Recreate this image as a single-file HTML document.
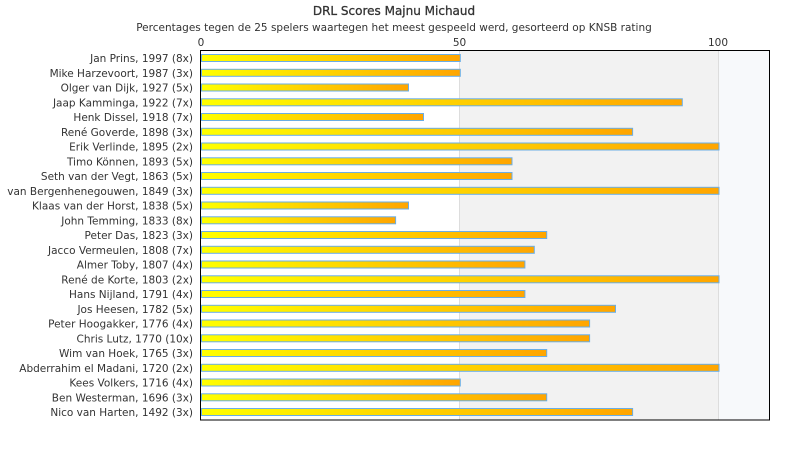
<!DOCTYPE html>
<html><head><meta charset="utf-8"><style>
html,body{margin:0;padding:0;background:#fff;}
svg{display:block;font-family:"DejaVu Sans","Liberation Sans",sans-serif;}
</style></head><body>
<svg width="790" height="450" viewBox="0 0 790 450" xmlns="http://www.w3.org/2000/svg">
<defs>
<linearGradient id="g" x1="0" x2="1" y1="0" y2="0"><stop offset="0" stop-color="#ffff00"/><stop offset="1" stop-color="#ffa500"/></linearGradient>
</defs>
<text x="394" y="15" text-anchor="middle" font-size="12" fill="#333" stroke="#333" stroke-width="0.3">DRL Scores Majnu Michaud</text>
<text x="394" y="31" text-anchor="middle" font-size="10.5" fill="#333">Percentages tegen de 25 spelers waartegen het meest gespeeld werd, gesorteerd op KNSB rating</text>
<rect x="459.5" y="50" width="259" height="370" fill="#f2f2f2"/>
<rect x="718.5" y="50" width="51" height="370" fill="#f7f9fb"/>
<line x1="459.5" y1="50" x2="459.5" y2="420" stroke="#ddd"/>
<line x1="718.5" y1="50" x2="718.5" y2="420" stroke="#ddd"/>
<g font-size="10.5" fill="#333" text-anchor="middle">
<text x="201" y="46">0</text><text x="459.5" y="46">50</text><text x="718" y="46">100</text>
</g>
<g id="bars" stroke="#6aaee6" stroke-width="1" fill="url(#g)"></g>
<g id="labels" font-size="10.5" fill="#333" text-anchor="end"></g>
<rect x="200.5" y="50.5" width="569" height="369.5" fill="none" stroke="#000"/>
<script>
var d=[["Jan Prins, 1997 (8x)",50],["Mike Harzevoort, 1987 (3x)",50],["Olger van Dijk, 1927 (5x)",40],["Jaap Kamminga, 1922 (7x)",92.9],["Henk Dissel, 1918 (7x)",42.9],["René Goverde, 1898 (3x)",83.3],["Erik Verlinde, 1895 (2x)",100],["Timo Können, 1893 (5x)",60],["Seth van der Vegt, 1863 (5x)",60],["van Bergenhenegouwen, 1849 (3x)",100],["Klaas van der Horst, 1838 (5x)",40],["John Temming, 1833 (8x)",37.5],["Peter Das, 1823 (3x)",66.7],["Jacco Vermeulen, 1808 (7x)",64.3],["Almer Toby, 1807 (4x)",62.5],["René de Korte, 1803 (2x)",100],["Hans Nijland, 1791 (4x)",62.5],["Jos Heesen, 1782 (5x)",80],["Peter Hoogakker, 1776 (4x)",75],["Chris Lutz, 1770 (10x)",75],["Wim van Hoek, 1765 (3x)",66.7],["Abderrahim el Madani, 1720 (2x)",100],["Kees Volkers, 1716 (4x)",50],["Ben Westerman, 1696 (3x)",66.7],["Nico van Harten, 1492 (3x)",83.3]];
var ns="http://www.w3.org/2000/svg",b=document.getElementById("bars"),l=document.getElementById("labels");
d.forEach(function(r,i){var cy=58+i*14.75;
var re=document.createElementNS(ns,"rect");re.setAttribute("x",201.5);re.setAttribute("y",(cy-3.5).toFixed(1));re.setAttribute("width",(r[1]*5.175).toFixed(1));re.setAttribute("height",7);b.appendChild(re);
var t=document.createElementNS(ns,"text");t.setAttribute("x",193);t.setAttribute("y",(cy+4).toFixed(1));t.textContent=r[0];l.appendChild(t);});
</script>
</svg>
</body></html>
